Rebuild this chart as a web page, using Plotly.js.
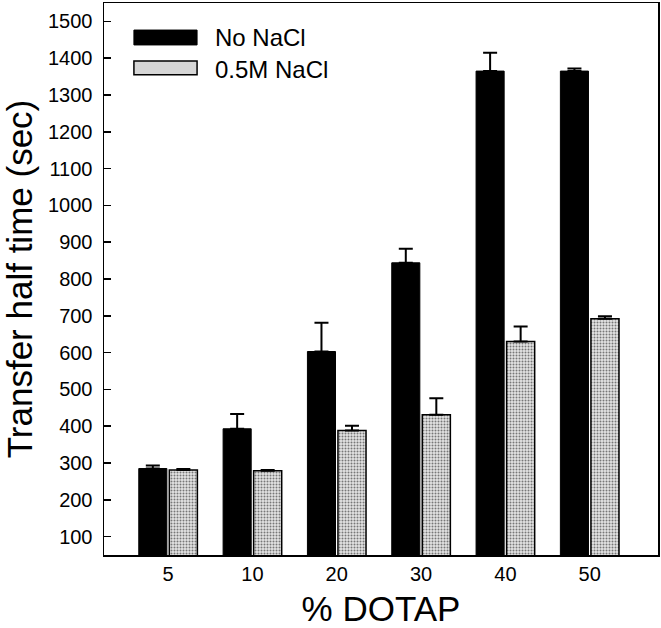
<!DOCTYPE html>
<html>
<head>
<meta charset="utf-8">
<script src="https://cdn.plot.ly/plotly-3.0.1.min.js"></script>
<style>html,body{margin:0;padding:0;background:#fff;}#chart{width:661px;height:628px;}</style>
</head>
<body>
<div id="chart"></div>
<script>
var categories = ["5", "10", "20", "30", "40", "50"];
var noNaCl = [285, 393, 603, 844, 1365, 1365];
var noNaClErr = [8, 40, 78, 38, 50, 7];
var withNaCl = [281, 279, 388, 431, 630, 692];
var withNaClErr = [3, 2, 13, 45, 41, 7];
var yTicks = [100, 200, 300, 400, 500, 600, 700, 800, 900, 1000, 1100, 1200, 1300, 1400, 1500];
var seriesNames = ["No NaCl", "0.5M NaCl"];

var font = "Liberation Sans, Arial, sans-serif";

var traces = [
  {
    type: "bar", name: seriesNames[0], x: categories, y: noNaCl,
    marker: {color: "#000000", line: {color: "#000000", width: 1}},
    error_y: {type: "data", array: noNaClErr, arrayminus: noNaClErr.map(function(){return 0;}), symmetric: false,
              color: "#000000", thickness: 2, width: 7},
    showlegend: false
  },
  {
    type: "bar", name: seriesNames[1], x: categories, y: withNaCl,
    marker: {color: "#d6d6d6", line: {color: "#000000", width: 1.5},
             pattern: {shape: ".", fgcolor: "#777777", bgcolor: "#e4e4e4", size: 3, solidity: 0.35}},
    error_y: {type: "data", array: withNaClErr, arrayminus: withNaClErr.map(function(){return 0;}), symmetric: false,
              color: "#000000", thickness: 2, width: 7},
    showlegend: false
  }
];

var layout = {
  width: 661, height: 628,
  margin: {l: 104, r: 3, t: 3, b: 73},
  paper_bgcolor: "#ffffff", plot_bgcolor: "#ffffff",
  font: {family: font, color: "#000000"},
  barmode: "group", bargap: 0.276, bargroupgap: 0.08,
  xaxis: {
    type: "category", range: [-0.76, 5.81],
    showline: true, mirror: true, linecolor: "#000000", linewidth: 1.5,
    ticks: "", showgrid: false, zeroline: false,
    tickfont: {size: 20, family: font}, ticklabelstandoff: 0,
    title: {text: "% DOTAP", font: {size: 35, family: font}, standoff: 20}
  },
  yaxis: {
    range: [50, 1550], tickvals: yTicks,
    showline: true, mirror: true, linecolor: "#000000", linewidth: 1.5,
    ticks: "inside", ticklen: 7, tickwidth: 1.5, tickcolor: "#000000",
    showgrid: false, zeroline: false,
    tickfont: {size: 20, family: font}, ticklabelstandoff: 6,
    title: {text: "Transfer half time (sec)", font: {size: 35, family: font}, standoff: 8}
  },
  shapes: [
    {type: "rect", xref: "paper", yref: "paper", x0: 0.054, x1: 0.168, y0: 0.924, y1: 0.951,
     fillcolor: "#000000", line: {color: "#000000", width: 1}},
    {type: "rect", xref: "paper", yref: "paper", x0: 0.054, x1: 0.168, y0: 0.870, y1: 0.895,
     fillcolor: "#d6d6d6", line: {color: "#000000", width: 1.5}}
  ],
  annotations: [
    {xref: "paper", yref: "paper", x: 0.197, y: 0.938, xanchor: "left", yanchor: "middle",
     text: seriesNames[0], showarrow: false, font: {size: 24, family: font}},
    {xref: "paper", yref: "paper", x: 0.197, y: 0.880, xanchor: "left", yanchor: "middle",
     text: seriesNames[1], showarrow: false, font: {size: 24, family: font}}
  ]
};

Plotly.newPlot("chart", traces, layout, {displayModeBar: false, staticPlot: true});
</script>
</body>
</html>
